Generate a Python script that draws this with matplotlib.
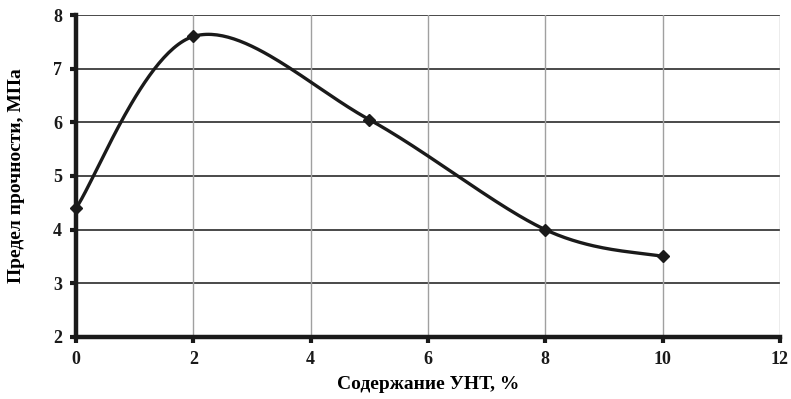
import numpy as np
import matplotlib.pyplot as plt

# data
cnt_pct = [0, 2, 5, 8, 10]
strength = [4.4, 7.6, 6.05, 4.0, 3.5]
x_ticks = [0, 2, 4, 6, 8, 10, 12]
y_ticks = [2, 3, 4, 5, 6, 7, 8]


def excel_smooth(xs, ys, n=60):
    # Bezier smoothing similar to Excel "smoothed line"
    pts = np.column_stack([xs, ys]).astype(float)
    out = []
    for i in range(len(pts) - 1):
        p0 = pts[i - 1] if i > 0 else pts[i]
        p1 = pts[i]
        p2 = pts[i + 1]
        p3 = pts[i + 2] if i + 2 < len(pts) else pts[i + 1]
        c1 = p1 + (p2 - p0) / 6
        c2 = p2 - (p3 - p1) / 6
        t = np.linspace(0, 1, n)[:, None]
        seg = ((1 - t) ** 3) * p1 + 3 * ((1 - t) ** 2) * t * c1 + 3 * (1 - t) * t ** 2 * c2 + t ** 3 * p2
        out.append(seg if i == 0 else seg[1:])
    out = np.vstack(out)
    return out[:, 0], out[:, 1]


plt.rcParams['font.family'] = ['Liberation Serif', 'DejaVu Serif']
plt.rcParams['font.weight'] = 'bold'

fig = plt.figure(figsize=(7.91, 3.99), dpi=100)
ax = fig.add_axes([0.0961, 0.1554, 0.8899, 0.807])

ax.set_xlim(0, 12)
ax.set_ylim(2, 8)
ax.set_xticks(x_ticks)
ax.set_yticks(y_ticks)

# grid: horizontal dark, vertical light gray
for y in y_ticks[1:]:
    ax.axhline(y, color='#3a3a3a', linewidth=1.3, zorder=1)
for x in x_ticks[1:]:
    ax.axvline(x, color='#a0a0a0', linewidth=1.0, zorder=1)

sx, sy = excel_smooth(cnt_pct, strength)
ax.plot(sx, sy, color='#1a1a1a', linewidth=2.4, zorder=3, solid_capstyle='round')
ax.plot(cnt_pct, strength, linestyle='none', marker='D', markersize=6,
        color='#1a1a1a', zorder=4, clip_on=False)

for s in ['top', 'right']:
    ax.spines[s].set_visible(False)
for s in ['left', 'bottom']:
    ax.spines[s].set_linewidth(3.2)
    ax.spines[s].set_color('#1a1a1a')
    ax.spines[s].set_zorder(5)

ax.tick_params(direction='out', length=4, width=3, colors='#1a1a1a', labelsize=13, pad=6)
for lab in ax.get_xticklabels() + ax.get_yticklabels():
    lab.set_fontweight('bold')

ax.set_xlabel('Содержание УНТ, %', fontsize=14, fontweight='bold', labelpad=6)
ax.set_ylabel('Предел прочности, МПа', fontsize=14, fontweight='bold', labelpad=20)

fig.savefig('out.png', dpi=100)
